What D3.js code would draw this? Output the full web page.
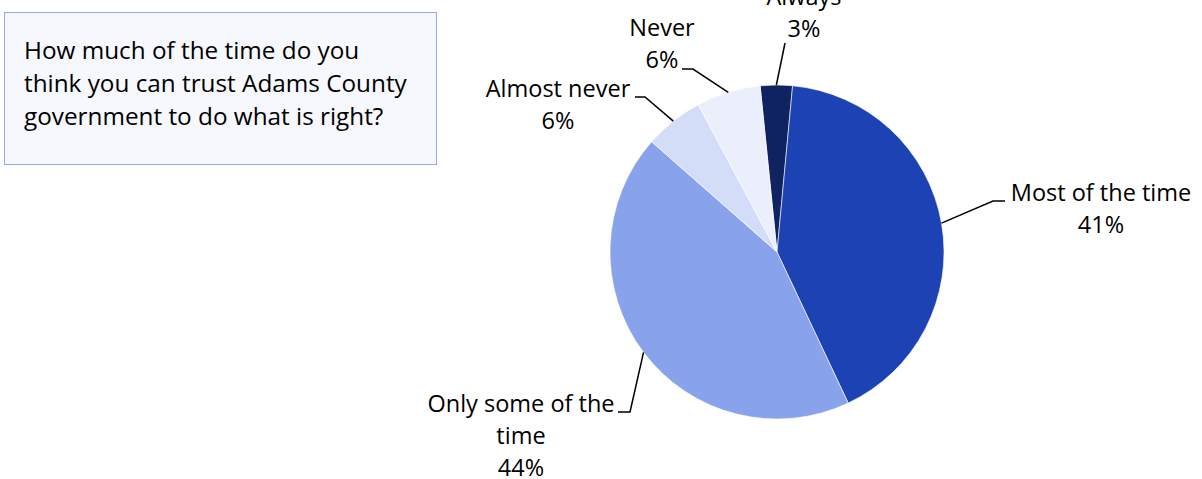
<!DOCTYPE html>
<html>
<head>
<meta charset="utf-8">
<script src="https://cdn.jsdelivr.net/npm/d3@7"></script>
<style>
  body { margin: 0; background: #fff; }
  text { font-family: "Open Sans", Lato, sans-serif; font-size: 23.5px; fill: #000; }
  text.question { font-size: 24.3px; }
</style>
</head>
<body>
<div id="chart"></div>
<script>
// data
var categories = ['Always', 'Most of the time', 'Only some of the time', 'Almost never', 'Never'];
var shares = [3.1, 41.5, 43.5, 5.7, 6.2];
var pctLabels = ['3%', '41%', '44%', '6%', '6%'];
var colors = ['#0e2360', '#1c42b3', '#88a2ec', '#d4ddf7', '#ebeffc'];
var question = ['How much of the time do you', 'think you can trust Adams County', 'government to do what is right?'];

var svgWidth = 1202;
var svgHeight = 479;

var svg = d3.select('#chart')
    .append('svg')
    .attr('width', svgWidth)
    .attr('height', svgHeight);

// question box
svg.append('rect')
    .attr('x', 4.5).attr('y', 12.5)
    .attr('width', 432).attr('height', 152)
    .attr('fill', '#f7f8fd')
    .attr('stroke', '#93aaef')
    .attr('stroke-width', 1);

svg.append('g').selectAll('text')
    .data(question)
    .enter()
    .append('text')
    .attr('class', 'question')
    .attr('x', 24)
    .attr('y', function (d, i) { return 59 + i * 33; })
    .text(function (d) { return d; });

// pie
var cx = 777, cy = 252, radius = 167;
var startDeg = -5.8;

var pie = d3.pie()
    .sort(null)
    .value(function (d) { return d; })
    .startAngle(startDeg * Math.PI / 180)
    .endAngle((startDeg + 360) * Math.PI / 180);

var arc = d3.arc().innerRadius(0).outerRadius(radius);
var slices = pie(shares);

var pieGroup = svg.append('g')
    .attr('transform', 'translate(' + cx + ',' + cy + ')');

pieGroup.selectAll('path')
    .data(slices)
    .enter()
    .append('path')
    .attr('d', arc)
    .attr('fill', function (d, i) { return colors[i]; })
    .attr('stroke', '#ffffff')
    .attr('stroke-width', 0.6);

// label layout: text anchor + elbow of leader line (page coords)
var labelLayout = [
    { x: 804, y: 5, elbow: null, end: [785, 43] },
    { x: 1101, y: 201, elbow: [993, 201], end: [1005, 201] },
    { x: 521, y: 412, elbow: [630, 412], end: [618, 412] },
    { x: 558, y: 97, elbow: [645, 97], end: [635, 97] },
    { x: 662, y: 36, elbow: [693, 69], end: [682, 69] }
];
// category names that wrap in the reference
var wrapped = { 'Only some of the time': ['Only some of the', 'time'] };

var lineH = 32;

slices.forEach(function (s, i) {
    var L = labelLayout[i];
    var mid = (s.startAngle + s.endAngle) / 2;
    var px = cx + radius * Math.sin(mid);
    var py = cy - radius * Math.cos(mid);
    var pts = [[px, py]];
    if (L.elbow) pts.push(L.elbow);
    pts.push(L.end);
    svg.append('path')
        .attr('d', d3.line()(pts))
        .attr('fill', 'none')
        .attr('stroke', '#000')
        .attr('stroke-width', 1.5);

    var lines = (wrapped[categories[i]] || [categories[i]]).concat([pctLabels[i]]);
    var t = svg.append('text')
        .attr('text-anchor', 'middle');
    lines.forEach(function (ln, j) {
        t.append('tspan')
            .attr('x', L.x)
            .attr('y', L.y + j * lineH)
            .text(ln);
    });
});
</script>
</body>
</html>
